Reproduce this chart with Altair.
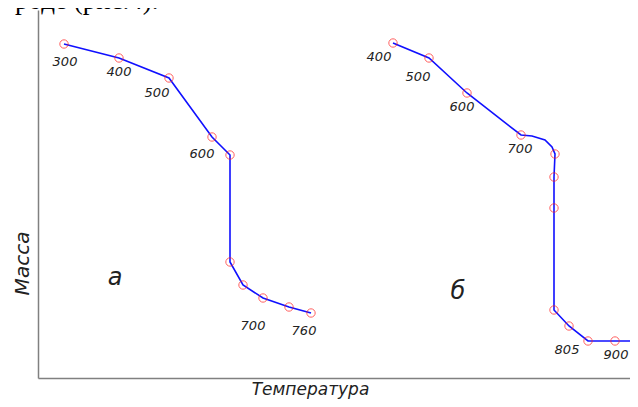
import altair as alt
import pandas as pd

# Curve "а" (x: horizontal position from the axis, mass: height above the axis)
a_x = [26, 81, 131, 174, 192, 192, 205, 225, 251, 273]
a_mass = [334, 320, 300, 241, 223, 116, 93, 80, 71, 65]

# Curve "б" path points and which of them carry a marker
b_x = [355, 391, 429, 483, 494, 507, 514, 517, 516, 516, 516, 531, 550, 577, 599]
b_mass = [335, 320, 285, 243, 242, 238, 231, 224, 201, 170, 68, 52, 37, 37, 37]
b_marker = [1, 1, 1, 1, 0, 0, 0, 1, 1, 1, 1, 1, 1, 1, 1]

# Temperature labels along the curves
lab_text = ["300", "400", "500", "600", "700", "760",
            "400", "500", "600", "700", "805", "900"]
lab_x = [27, 81, 119, 164, 215, 266, 341, 380, 424, 482, 529, 578]
lab_y = [316, 306, 285, 224, 52, 47, 321, 301, 271, 229, 28, 23]

# Curve letters
let_text = ["а", "б"]
let_x = [77, 420]
let_y = [100, 86]

df_a = pd.DataFrame({"x": a_x, "m": a_mass, "i": range(len(a_x)), "mk": 1})
df_b = pd.DataFrame({"x": b_x, "m": b_mass, "i": range(len(b_x)), "mk": b_marker})
df_pts = pd.concat([df_a, df_b[df_b["mk"] == 1]])
df_lab = pd.DataFrame({"t": lab_text, "x": lab_x, "m": lab_y})
df_let = pd.DataFrame({"t": let_text, "x": let_x, "m": let_y})

FONT = "DejaVu Sans"
BLUE = "#1010ff"

xs = alt.Scale(domain=[0, 592], nice=False, zero=False)
ys = alt.Scale(domain=[0, 368], nice=False, zero=False)

x_axis = alt.Axis(ticks=False, labels=False, grid=False, domainColor="#808080",
                  domainWidth=1.5, title="Температура", titleFont=FONT,
                  titleFontSize=17, titleFontStyle="italic", titleFontWeight="normal",
                  titleColor="#222222", titleX=272, titleY=11, titleAlign="center",
                  titleBaseline="middle", titleAnchor=None)
y_axis = alt.Axis(ticks=False, labels=False, grid=False, domainColor="#808080",
                  domainWidth=1.5, title="Масса", titleFont=FONT,
                  titleFontSize=20, titleFontStyle="italic", titleFontWeight="normal",
                  titleColor="#222222", titleAngle=270, titleX=-16, titleY=253,
                  titleAlign="center", titleBaseline="middle")

enc_x = alt.X("x:Q", scale=xs, axis=x_axis)
enc_y = alt.Y("m:Q", scale=ys, axis=y_axis)

line_a = alt.Chart(df_a).mark_line(color=BLUE, strokeWidth=1.6).encode(
    x=enc_x, y=enc_y, order="i:O")
line_b = alt.Chart(df_b).mark_line(color=BLUE, strokeWidth=1.6).encode(
    x=alt.X("x:Q", scale=xs), y=alt.Y("m:Q", scale=ys), order="i:O")
pts = alt.Chart(df_pts).mark_point(shape="circle", filled=False, color="#ff2020",
                                   size=70, strokeWidth=1).encode(
    x=alt.X("x:Q", scale=xs), y=alt.Y("m:Q", scale=ys))
labels = alt.Chart(df_lab).mark_text(font=FONT, fontSize=13, fontStyle="italic",
                                     color="#222222", align="center",
                                     baseline="middle").encode(
    x=alt.X("x:Q", scale=xs), y=alt.Y("m:Q", scale=ys), text="t:N")
letters = alt.Chart(df_let).mark_text(font=FONT, fontSize=24, fontStyle="italic",
                                      color="#222222", align="center",
                                      baseline="middle").encode(
    x=alt.X("x:Q", scale=xs), y=alt.Y("m:Q", scale=ys), text="t:N")

top_txt = alt.Chart(pd.DataFrame({"t": ["роде (рис.4)."]})).mark_text(
    font="Liberation Serif", fontSize=27, color="#000000", align="left",
    baseline="alphabetic").encode(x=alt.value(-23), y=alt.value(-1), text="t:N")

chart = alt.layer(line_a, line_b, pts, labels, letters, top_txt).properties(
    width=592, height=368,
    padding={"left": 30, "top": 2, "right": 0, "bottom": 21},
    autosize=alt.AutoSizeParams(type="none"),
    background="white",
).configure_view(stroke=None)

chart.save("out.html", embed_options={"renderer": "svg", "actions": False})
